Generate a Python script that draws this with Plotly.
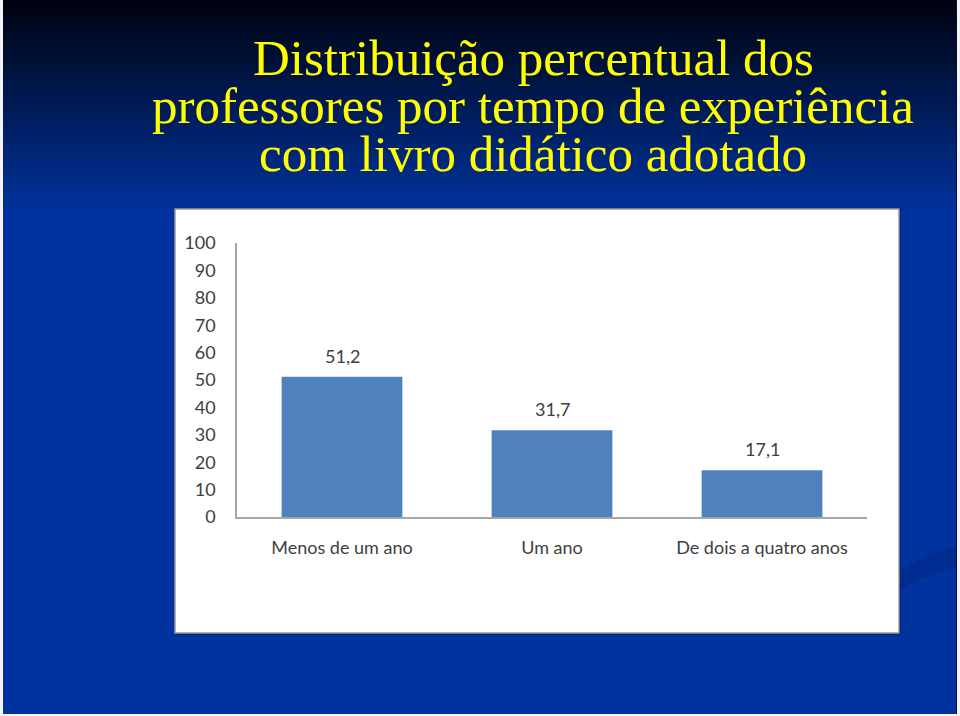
import plotly.graph_objects as go

categories = ["Menos de um ano", "Um ano", "De dois a quatro anos"]
values = [51.2, 31.7, 17.1]
y_ticks = [0, 10, 20, 30, 40, 50, 60, 70, 80, 90, 100]
title_lines = ["Distribuição percentual dos",
               "professores por tempo de experiência",
               "com livro didático adotado"]

W, H = 960, 716
L, R, T, B = 237, 867, 243, 517  # plot area in pixels

def px(x):
    return (x - L) / (R - L)

def py(y):
    return (B - y) / (B - T)

fig = go.Figure()
fig.add_trace(go.Bar(
    x=categories, y=values,
    marker=dict(color="#4F81BD", line=dict(width=0)),
    cliponaxis=False,
))

shapes = []
# background gradient strips
top = (0, 3, 15)
bot = (0, 51, 158)
n = 55
gh = 215
for i in range(n):
    t = i / (n - 1)
    c = tuple(int(round(top[k] + (bot[k] - top[k]) * t)) for k in range(3))
    y0 = i * gh / n
    y1 = (i + 1) * gh / n + 0.6
    shapes.append(dict(type="rect", xref="paper", yref="paper",
                       x0=px(0), x1=px(W), y0=py(y1), y1=py(y0),
                       fillcolor="rgb(%d,%d,%d)" % c, line=dict(width=0), layer="below"))
# subtle swoosh on right
shapes.append(dict(type="path", xref="paper", yref="paper",
                   path="M %f %f Q %f %f %f %f L %f %f Q %f %f %f %f Z" % (
                       px(890), py(595), px(925), py(575), px(960), py(565),
                       px(960), py(545), px(925), py(555), px(890), py(575)),
                   fillcolor="rgba(0,30,110,0.3)", line=dict(width=0), layer="below"))
# white chart panel
shapes.append(dict(type="rect", xref="paper", yref="paper",
                   x0=px(176), x1=px(901), y0=py(635), y1=py(208),
                   fillcolor="rgba(0,0,0,0.25)", line=dict(width=0), layer="below"))
shapes.append(dict(type="rect", xref="paper", yref="paper",
                   x0=px(175), x1=px(899), y0=py(633), y1=py(209),
                   fillcolor="white", line=dict(color="#9a9a9a", width=1.5), layer="below"))
# thin light frame at image edges
for (a, b, c_, d) in [(0, 3, 0, H), (957, W, 0, H), (0, W, 714, H)]:
    shapes.append(dict(type="rect", xref="paper", yref="paper",
                       x0=px(a), x1=px(b), y0=py(d), y1=py(c_),
                       fillcolor="#F4F4F8", line=dict(width=0), layer="above"))
shapes.append(dict(type="line", xref="paper", yref="paper",
                   x0=px(956.5), x1=px(956.5), y0=py(714), y1=py(0),
                   line=dict(color="#001040", width=1), layer="above"))

annotations = []
centers = [58, 106, 154]
for line, cy in zip(title_lines, centers):
    annotations.append(dict(text=line, xref="paper", yref="paper",
                            x=px(533), y=py(cy), xanchor="center", yanchor="middle",
                            showarrow=False,
                            font=dict(family="Liberation Serif", size=51, color="#FFFF00")))

# data labels above bars
for c, v in zip(categories, values):
    annotations.append(dict(text=("%.1f" % v).replace(".", ","), x=c, y=v,
                            xref="x", yref="y", yanchor="bottom", xanchor="center",
                            yshift=8, showarrow=False,
                            font=dict(family="Lato", size=18, color="#404040")))

fig.update_layout(
    width=W, height=H,
    margin=dict(l=L, r=W - R, t=T, b=H - B, pad=0),
    paper_bgcolor="rgb(0,51,158)",
    plot_bgcolor="rgba(0,0,0,0)",
    separators=",.",
    showlegend=False,
    bargap=0.425,
    shapes=shapes,
    annotations=annotations,
    xaxis=dict(showgrid=False, showline=True, linecolor="#A6A6A6", linewidth=1.5,
               ticks="", tickfont=dict(family="Lato", size=18, color="#404040"),
               ticklabelstandoff=14, zeroline=False),
    yaxis=dict(range=[0, 100], tickvals=y_ticks, showgrid=False, showline=True,
               linecolor="#A6A6A6", linewidth=1.5, ticks="",
               tickfont=dict(family="Lato", size=18, color="#404040"),
               ticklabelstandoff=16, zeroline=False),
)

fig.write_html("out.html")
